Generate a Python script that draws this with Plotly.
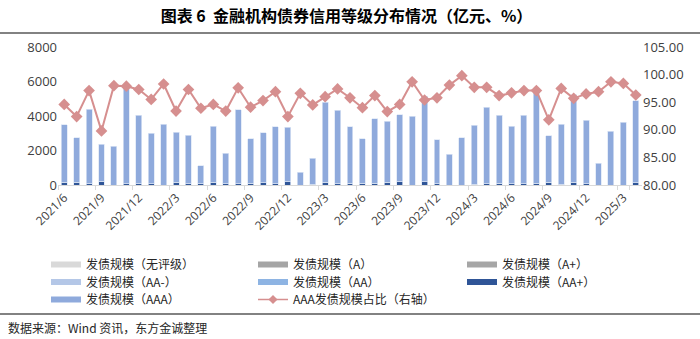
import plotly.graph_objects as go

months = ["2021/6", "2021/7", "2021/8", "2021/9", "2021/10", "2021/11", "2021/12",
          "2022/1", "2022/2", "2022/3", "2022/4", "2022/5", "2022/6", "2022/7", "2022/8",
          "2022/9", "2022/10", "2022/11", "2022/12", "2023/1", "2023/2", "2023/3", "2023/4",
          "2023/5", "2023/6", "2023/7", "2023/8", "2023/9", "2023/10", "2023/11", "2023/12",
          "2024/1", "2024/2", "2024/3", "2024/4", "2024/5", "2024/6", "2024/7", "2024/8",
          "2024/9", "2024/10", "2024/11", "2024/12", "2025/1", "2025/2", "2025/3", "2025/4"]

tick_labels = ["2021/6", "2021/9", "2021/12", "2022/3", "2022/6", "2022/9", "2022/12",
               "2023/3", "2023/6", "2023/9", "2023/12", "2024/3", "2024/6", "2024/9",
               "2024/12", "2025/3"]

unrated = [0] * 47
rating_a = [0] * 47
rating_a_plus = [0] * 47
rating_aa_minus = [0] * 47
rating_aa = [0] * 47

rating_aa_plus = [170, 170, 80, 210, 0, 80, 80, 80, 0, 170, 60, 60,
                  150, 80, 80, 100, 120, 80, 200, 0, 40, 150, 80, 100,
                  100, 100, 150, 180, 0, 180, 60, 0, 0, 40, 60,
                  100, 60, 60, 100, 170, 30, 170, 60, 0, 0, 0, 130]

rating_aaa = [3326, 2555, 4326, 2167, 2261, 5636, 3978, 2911, 3536, 2902, 2815, 1059,
              3270, 1752, 4285, 2584, 2912, 3300, 3139, 730, 1525, 4638, 4245, 3280,
              2584, 3743, 3560, 3895, 4000, 4956, 2549, 1797, 2725, 3415, 4462,
              3935, 3360, 3975, 5384, 2671, 3506, 5065, 3708, 1275, 3107, 3652, 4740]

aaa_share = [94.6, 92.4, 97.1, 89.8, 98.0, 97.9, 97.3, 95.5, 98.3, 93.4, 97.3, 93.9,
             94.6, 93.4, 97.6, 94.1, 95.3, 96.9, 92.4, 96.6, 94.5, 96.0, 97.4, 95.8,
             94.0, 96.2, 93.3, 94.6, 98.7, 95.4, 95.8, 98.1, 99.8, 97.7, 97.7,
             96.2, 96.7, 97.1, 97.1, 91.8, 97.5, 95.7, 96.5, 96.9, 98.7, 98.4, 96.3]

series_names = ["发债规模（无评级）", "发债规模（A）", "发债规模（A+）", "发债规模（AA-）",
                "发债规模（AA）", "发债规模（AA+）", "发债规模（AAA）"]
series_values = [unrated, rating_a, rating_a_plus, rating_aa_minus, rating_aa,
                 rating_aa_plus, rating_aaa]
series_colors = ["#D9D9D9", "#A5A5A5", "#A6A6A6", "#B4C7E7", "#8EB4E3", "#2F5597", "#8FAADC"]
share_name = "AAA发债规模占比（右轴）"

LINE_COLOR = "#D68F8F"
FONT = "Noto Sans CJK SC"
TXT = "#404040"

L, R, T, B = 58, 58, 47, 154
W, H = 700, 339
pw, ph = W - L - R, H - T - B


def px_x(x):
    return (x - L) / pw


def px_y(y):
    return (H - B - y) / ph


fig = go.Figure()
for name, vals, color in zip(series_names, series_values, series_colors):
    fig.add_trace(go.Bar(x=months, y=vals, name=name, marker_color=color,
                         marker_line=dict(color="rgba(220,230,245,0.9)", width=0.8),
                         showlegend=False, yaxis="y"))

fig.add_trace(go.Scatter(x=months, y=aaa_share, yaxis="y2", mode="lines+markers",
                         line=dict(color=LINE_COLOR, width=2),
                         marker=dict(symbol="diamond", size=9, color=LINE_COLOR),
                         showlegend=False))

# legend grid: 3 columns x 3 rows, each entry its own legend box
col_x = [46, 253, 462]
row_top = [250, 267.5, 285]
legend_layout = {}
entries = list(range(7)) + [7]
for k, idx in enumerate(entries):
    col, row = k % 3, k // 3
    key = "legend" if k == 0 else "legend%d" % (k + 1)
    legend_layout[key] = dict(x=px_x(col_x[col]), y=px_y(row_top[row]), xanchor="left",
                              yanchor="top", orientation="v", traceorder="normal",
                              font=dict(family=FONT, size=12, color="#262626"),
                              bgcolor="rgba(0,0,0,0)", itemwidth=30)
    if idx < 7:
        fig.add_trace(go.Scatter(x=[None], y=[None], mode="lines", name=series_names[idx],
                                 line=dict(color=series_colors[idx], width=6),
                                 legend=key, yaxis="y"))
    else:
        fig.add_trace(go.Scatter(x=[None], y=[None], mode="lines+markers", name=share_name,
                                 line=dict(color=LINE_COLOR, width=1.5),
                                 marker=dict(symbol="diamond", size=7, color=LINE_COLOR),
                                 legend=key, yaxis="y2"))

fig.update_layout(
    width=W, height=H,
    margin=dict(l=L, r=R, t=T, b=B),
    paper_bgcolor="white", plot_bgcolor="white",
    barmode="stack", bargap=0.52,
    title=dict(text="图表 6  金融机构债券信用等级分布情况（亿元、%）", x=0.495, xanchor="center",
               y=1 - 16 / H, yanchor="middle",
               font=dict(family=FONT, size=16, color="#000000", weight="bold")),
    xaxis=dict(type="category", tickvals=tick_labels, ticktext=tick_labels,
               tickangle=-45, tickfont=dict(family="Open Sans", size=12, color=TXT),
               showline=True, linecolor="#D9D9D9", linewidth=1,
               ticks="outside", ticklen=4, tickcolor="#D9D9D9", tickson="boundaries",
               showgrid=False, range=[-0.5, 46.5]),
    yaxis=dict(range=[0, 8000], tickvals=[0, 2000, 4000, 6000, 8000], showgrid=False,
               zeroline=False, tickfont=dict(family="Open Sans", size=13, color=TXT),
               ticks="", showline=False),
    yaxis2=dict(range=[80, 105], overlaying="y", side="right", showgrid=False,
                tickvals=[80, 85, 90, 95, 100, 105], tickformat=".2f", zeroline=False,
                tickfont=dict(family="Open Sans", size=13, color=TXT), ticks="",
                showline=False),
    shapes=[
        dict(type="line", xref="paper", yref="paper", x0=px_x(0), x1=px_x(700),
             y0=px_y(33), y1=px_y(33), line=dict(color="#595959", width=1.5)),
        dict(type="line", xref="paper", yref="paper", x0=px_x(0), x1=px_x(700),
             y0=px_y(314), y1=px_y(314), line=dict(color="#595959", width=1.5)),
    ],
    annotations=[
        dict(text="数据来源：Wind 资讯，东方金诚整理", xref="paper", yref="paper",
             x=px_x(6), y=px_y(327), xanchor="left", yanchor="middle", showarrow=False,
             font=dict(family=FONT, size=12, color="#262626")),
    ],
)
fig.update_layout(**legend_layout)

fig.write_html("out.html")
